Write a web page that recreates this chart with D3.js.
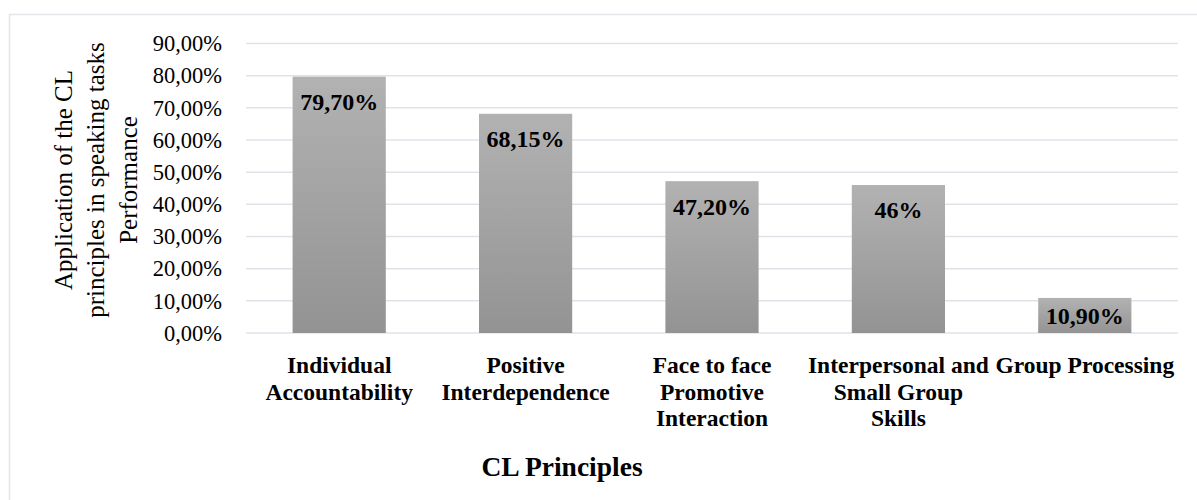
<!DOCTYPE html>
<html>
<head>
<meta charset="utf-8">
<script src="https://cdn.jsdelivr.net/npm/d3@7"></script>
<style>
  body { margin: 0; background: #fff; }
  svg { display: block; font-family: "Liberation Serif", "Times New Roman", serif; }
</style>
</head>
<body>
<div id="chart"></div>
<script>
const categories = ["Individual Accountability", "Positive Interdependence", "Face to face Promotive Interaction", "Interpersonal and Small Group Skills", "Group Processing"];
const categoryLines = [
  ["Individual", "Accountability"],
  ["Positive", "Interdependence"],
  ["Face to face", "Promotive", "Interaction"],
  ["Interpersonal and", "Small Group", "Skills"],
  ["Group Processing"]
];
const values = [0.797, 0.6815, 0.472, 0.46, 0.109];
const valueLabels = ["79,70%", "68,15%", "47,20%", "46%", "10,90%"];
const yTicks = [0, 0.1, 0.2, 0.3, 0.4, 0.5, 0.6, 0.7, 0.8, 0.9];
const yTitleLines = ["Application of the CL", "principles  in speaking tasks", "Performance"];
const xTitle = "CL Principles";

const width = 1197, height = 500;
const margin = { top: 43.5, right: 19, bottom: 167, left: 246 };

const svg = d3.select("#chart").append("svg")
  .attr("width", width)
  .attr("height", height);

// chart frame
svg.append("rect")
  .attr("x", 9.5).attr("y", 14.5)
  .attr("width", 1200).attr("height", 520)
  .attr("fill", "none")
  .attr("stroke", "#e3e7eb")
  .attr("stroke-width", 1.5);

const grad = svg.append("defs").append("linearGradient")
  .attr("id", "barGrad")
  .attr("x1", 0).attr("y1", 0).attr("x2", 0).attr("y2", 1);
grad.append("stop").attr("offset", "0%").attr("stop-color", "#b2b2b2");
grad.append("stop").attr("offset", "100%").attr("stop-color", "#939393");

const x = d3.scaleBand()
  .domain(categories)
  .range([margin.left, width - margin.right])
  .paddingInner(0.5)
  .paddingOuter(0.25);

const y = d3.scaleLinear()
  .domain([0, 0.9])
  .range([height - margin.bottom, margin.top]);

const fmt = d => d3.format(".2f")(d * 100).replace(".", ",") + "%";

// gridlines
svg.append("g")
  .selectAll("line")
  .data(yTicks)
  .enter().append("line")
  .attr("x1", margin.left)
  .attr("x2", width - margin.right)
  .attr("y1", d => y(d))
  .attr("y2", d => y(d))
  .attr("stroke", "#dfe3e8")
  .attr("stroke-width", 1.5);

// y axis labels
const yAxis = d3.axisLeft(y).tickValues(yTicks).tickFormat(fmt).tickSize(0).tickPadding(24);
const yAxisGroup = svg.append("g")
  .attr("transform", `translate(${margin.left}, 0)`)
  .call(yAxis);
yAxisGroup.select(".domain").remove();
yAxisGroup.selectAll("text")
  .attr("font-family", "Liberation Serif, Times New Roman, serif")
  .attr("font-size", 22.5)
  .attr("fill", "#000");

// bars
svg.append("g")
  .selectAll(".bar")
  .data(values)
  .enter().append("rect")
  .attr("class", "bar")
  .attr("x", (d, i) => x(categories[i]))
  .attr("y", d => y(d))
  .attr("width", x.bandwidth())
  .attr("height", d => y(0) - y(d))
  .attr("fill", "url(#barGrad)");

// value labels
svg.append("g")
  .selectAll("text")
  .data(values)
  .enter().append("text")
  .attr("x", (d, i) => x(categories[i]) + x.bandwidth() / 2)
  .attr("y", d => Math.min(y(d) + 25, (y(d) + y(0)) / 2))
  .attr("dy", "0.35em")
  .attr("text-anchor", "middle")
  .attr("font-size", 24)
  .attr("font-weight", "bold")
  .attr("fill", "#000")
  .text((d, i) => valueLabels[i]);

// category labels
const catG = svg.append("g")
  .selectAll("text")
  .data(categoryLines)
  .enter().append("text")
  .attr("text-anchor", "middle")
  .attr("font-size", 23.5)
  .attr("font-weight", "bold")
  .attr("fill", "#000")
  .attr("transform", (d, i) => `translate(${x(categories[i]) + x.bandwidth() / 2}, 373)`);
catG.selectAll("tspan")
  .data(d => d)
  .enter().append("tspan")
  .attr("x", 0)
  .attr("y", (d, i) => i * 26.5)
  .text(d => d);

// y axis title
const yTitle = svg.append("text")
  .attr("transform", `translate(63, 180) rotate(-90)`)
  .attr("text-anchor", "middle")
  .attr("font-size", 25)
  .attr("fill", "#000");
yTitle.selectAll("tspan")
  .data(yTitleLines)
  .enter().append("tspan")
  .attr("x", 0)
  .attr("y", (d, i) => i * 32.5)
  .attr("dy", "0.35em")
  .text(d => d);

// x axis title
svg.append("text")
  .attr("x", 562)
  .attr("y", 476)
  .attr("text-anchor", "middle")
  .attr("font-size", 27.5)
  .attr("font-weight", "bold")
  .attr("fill", "#000")
  .text(xTitle);
</script>
</body>
</html>
